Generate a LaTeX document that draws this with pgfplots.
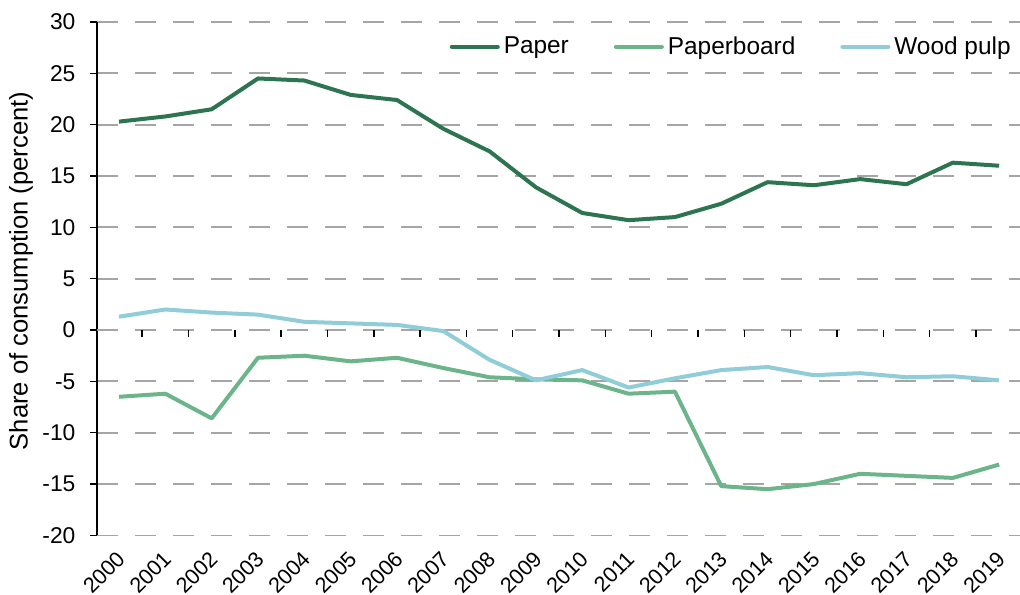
\documentclass[border=0pt]{standalone}
\usepackage{pgfplots}
\pgfplotsset{compat=1.18}
\usepackage{fontspec}
\setmainfont{Liberation Sans}
\definecolor{cpaper}{RGB}{45,117,80}
\definecolor{cboard}{RGB}{108,180,138}
\definecolor{cpulp}{RGB}{144,205,216}
\definecolor{cgrid}{RGB}{165,165,165}
\begin{document}
\begin{tikzpicture}
\begin{axis}[
  scale only axis,
  width=461.6pt, height=256.7pt,
  xmin=-0.48, xmax=19.45,
  ymin=-20, ymax=30,
  axis lines*=left,
  x axis line style={draw=none},
  y axis line style={black, line width=0.7pt},
  xtick={0,...,19},
  xticklabels={2000,2001,2002,2003,2004,2005,2006,2007,2008,2009,2010,2011,2012,2013,2014,2015,2016,2017,2018,2019},
  xtick style={draw=none},
  /pgf/number format/assume math mode=true,
  xticklabel style={font=\fontsize{10.8}{12}\selectfont, rotate=45, anchor=north east, inner sep=0pt, yshift=-1.2pt, xshift=-3.7pt},
  ytick={-20,-15,...,30},
  yticklabel style={font=\fontsize{11.4}{13}\selectfont, inner sep=1pt, xshift=-6pt},
  ytick style={black, line width=0.7pt},
  tick align=outside,
  major tick length=3.5pt,
  ymajorgrids,
  major grid style={cgrid, line width=0.9pt, dash pattern=on 10.8pt off 8.2pt},
  extra y ticks={0},
  extra y tick labels={},
  extra y tick style={grid style={solid, black!80, line width=0.8pt}, tick style={draw=none}},
  ylabel={Share of consumption (percent)},
  ylabel style={font=\fontsize{12.8}{14}\selectfont, at={(axis description cs:-0.082,0.515)}, anchor=center},
  legend style={draw=none, fill=none, at={(axis description cs:1,1)}, anchor=north east, xshift=0.5pt, yshift=-3pt,
    font=\fontsize{12.2}{14}\selectfont, legend columns=-1,
    /tikz/every even column/.append style={column sep=20.5pt}},
  legend image code/.code={\draw[#1, line width=2pt, line cap=round] (0pt,0pt) -- (23pt,0pt);},
  every axis plot/.append style={line width=2pt, line join=round},
]
\addplot[cpaper] coordinates {
(0,20.3) (1,20.8) (2,21.5) (3,24.5) (4,24.3) (5,22.9) (6,22.4) (7,19.6) (8,17.4) (9,13.9)
(10,11.4) (11,10.7) (12,11.0) (13,12.3) (14,14.4) (15,14.1) (16,14.7) (17,14.2) (18,16.3) (19,16.0)};
\addlegendentry{Paper}
\addplot[cboard] coordinates {
(0,-6.5) (1,-6.2) (2,-8.6) (3,-2.7) (4,-2.5) (5,-3.05) (6,-2.7) (7,-3.7) (8,-4.6) (9,-4.8)
(10,-4.9) (11,-6.2) (12,-6.0) (13,-15.2) (14,-15.5) (15,-15.0) (16,-14.0) (17,-14.2) (18,-14.4) (19,-13.1)};
\addlegendentry{Paperboard}
\addplot[cpulp] coordinates {
(0,1.3) (1,2.0) (2,1.7) (3,1.5) (4,0.8) (5,0.65) (6,0.5) (7,-0.1) (8,-2.9) (9,-4.9)
(10,-3.9) (11,-5.6) (12,-4.7) (13,-3.9) (14,-3.6) (15,-4.4) (16,-4.2) (17,-4.6) (18,-4.5) (19,-4.9)};
\addlegendentry{Wood pulp}
\pgfplotsinvokeforeach{0,...,18}{\draw[black, line width=0.7pt] (axis cs:#1.5,0) -- ([yshift=-3.5pt]axis cs:#1.5,0);}
\end{axis}
\pgfresetboundingbox
\path (current axis.south west) ++(-48.4pt,-29.3pt) rectangle ([yshift=11pt]current axis.north east);
\end{tikzpicture}
\end{document}
